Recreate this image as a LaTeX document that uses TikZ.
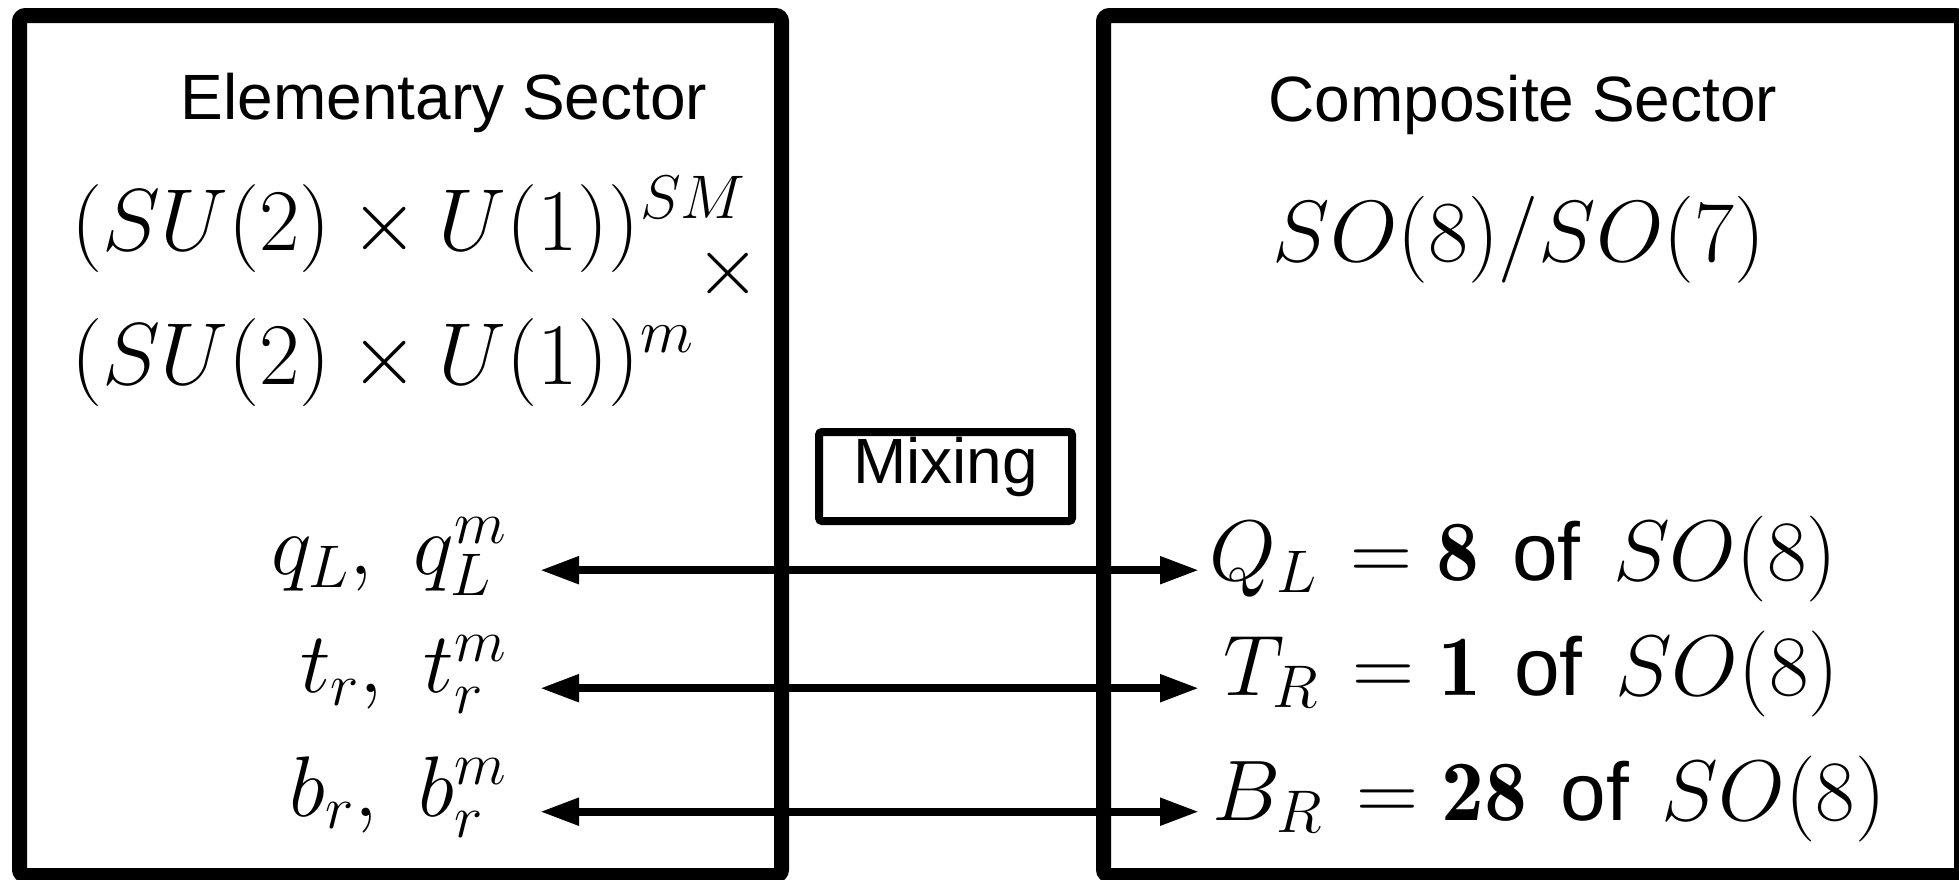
\RequirePackage{fix-cm}
\documentclass[tikz,border=0pt]{standalone}
\usepackage{fontspec}
\newfontfamily\sansf{Liberation Sans}
\newcommand{\ofword}{\hspace{0.38em}{\sansf\fontsize{41}{48}\selectfont of}\hspace{0.38em}}
\usetikzlibrary{arrows.meta}
\begin{document}
\begin{tikzpicture}[x=0.5pt,y=-0.5pt,
  sector/.style={draw, line width=7.5pt, rounded corners=3pt, inner sep=0pt, minimum height=430pt},
  title/.style={font=\sansf\fontsize{32}{38}\selectfont, inner sep=0pt, anchor=base},
  grp/.style={font=\fontsize{44}{50}\selectfont, inner sep=0pt},
  lft/.style={font=\fontsize{43}{50}\selectfont, inner xsep=16.5pt, inner ysep=0pt, anchor=base east},
  rgt/.style={font=\fontsize{43}{50}\selectfont, inner xsep=5pt, inner ysep=0pt, anchor=base west},
  mixbox/.style={draw, line width=4pt, rounded corners=1.5pt, minimum width=126.5pt, minimum height=44.5pt, inner sep=0pt, font=\sansf\fontsize{32}{38}\selectfont, text height=0.716em, text depth=0pt},
  arr/.style={{Triangle[length=19.5pt,width=13pt]}-{Triangle[length=19.5pt,width=13pt]}, line width=4pt},
]
\useasboundingbox (0,0) rectangle (1959,879);
\node[sector, minimum width=381pt] (elem) at (400.5,445.5) {};
\node[sector, minimum width=429pt] (comp) at (1532.5,445.5) {};
\node[title] (elemt) at (444,119) {Elementary Sector};
\node[title] (compt) at (1523,121) {Composite Sector};
\node[grp, anchor=base west] (g1) at (71,250) {$(SU(2)\times U(1))^{SM}$};
\node[grp, font=\fontsize{42}{50}\selectfont] (gx) at (728,273) {$\times$};
\node[grp, anchor=base west] (g2) at (71,384) {$(SU(2)\times U(1))^{m}$};
\node[grp, font=\fontsize{43.5}{50}\selectfont, anchor=base] (coset) at (1519,261.5) {$SO(8)/SO(7)$};
\node[mixbox] (mix) at (945.5,476.5) {Mixing};
\node[lft] (q) at (540,574.5) {$q_L,\ q_L^m$};
\node[lft] (t) at (540,692.5) {$t_r,\ t_r^m$};
\node[lft] (b) at (540,816) {$b_r,\ b_r^m$};
\node[rgt] (Q) at (1199,580) {$Q_L\mkern2mu=\mathbf{8}$\ofword$SO(8)$};
\node[rgt] (T) at (1199,695) {\hspace{7pt}$T_R\mkern2mu=\mathbf{1}$\ofword$SO(8)$};
\node[rgt] (B) at (1199,820) {\hspace{1.5pt}$B_R\mkern2mu=\mathbf{28}$\ofword$SO(8)$};
\draw[arr] (q.mid east) -- (q.mid east -| Q.west);
\draw[arr] (t.mid east) -- (t.mid east -| T.west);
\draw[arr] (b.mid east) -- (b.mid east -| B.west);
\end{tikzpicture}
\end{document}
